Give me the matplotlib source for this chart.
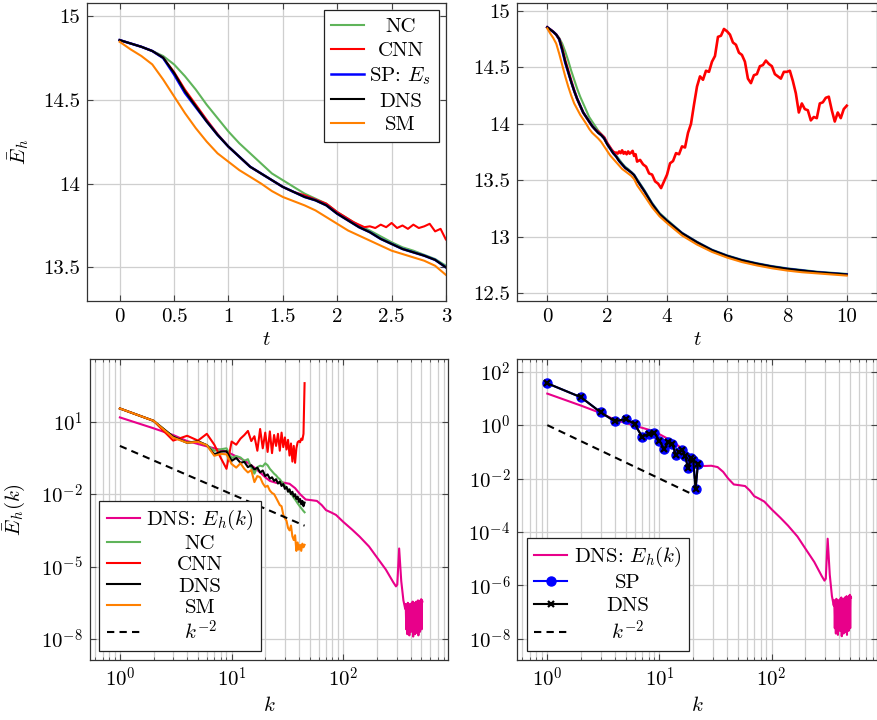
import numpy as np
import matplotlib
matplotlib.use('Agg')
import matplotlib.pyplot as plt
from matplotlib.ticker import FixedLocator, FixedFormatter, LogLocator, NullLocator, NullFormatter

plt.rcParams['font.family'] = 'serif'
plt.rcParams['font.serif'] = ['cmr10']
plt.rcParams['mathtext.fontset'] = 'cm'
plt.rcParams['axes.formatter.use_mathtext'] = True
plt.rcParams['axes.unicode_minus'] = False
FS = 15

# ---------------- time series (top panels) ----------------
t_vals = [0.0, 0.1, 0.2, 0.3, 0.4, 0.5, 0.6, 0.7, 0.8, 0.9, 1.0, 1.1, 1.2, 1.3, 1.4, 1.5,
          1.6, 1.7, 1.8, 1.9, 2.0, 2.1, 2.2, 2.3, 2.4, 2.5, 2.6, 2.7, 2.8, 2.9, 3.0,
          3.25, 3.5, 3.75, 4.0, 4.5, 5.0, 5.5, 6.0, 6.5, 7.0, 7.5, 8.0, 8.5, 9.0, 9.5, 10.0]
E_dns = [14.855, 14.835, 14.815, 14.79, 14.75, 14.66, 14.55, 14.46, 14.37, 14.29, 14.22, 14.16,
         14.10, 14.06, 14.02, 13.98, 13.95, 13.92, 13.90, 13.87, 13.82, 13.78, 13.74, 13.71, 13.67,
         13.64, 13.61, 13.59, 13.57, 13.545, 13.50,
         13.40, 13.29, 13.20, 13.14, 13.03, 12.95, 12.88, 12.83, 12.79, 12.76, 12.735, 12.715,
         12.70, 12.685, 12.675, 12.665]
E_sp = [14.855, 14.835, 14.815, 14.79, 14.748, 14.65, 14.54, 14.455, 14.37, 14.29, 14.22, 14.16,
        14.10, 14.06, 14.02, 13.98, 13.95, 13.92, 13.90, 13.87, 13.82, 13.78, 13.74, 13.71, 13.67,
        13.64, 13.61, 13.59, 13.57, 13.545, 13.50,
        13.40, 13.29, 13.20, 13.14, 13.03, 12.95, 12.88, 12.83, 12.79, 12.76, 12.735, 12.715,
        12.70, 12.685, 12.675, 12.665]
E_nc = [14.855, 14.835, 14.815, 14.79, 14.76, 14.71, 14.64, 14.56, 14.47, 14.39, 14.31, 14.24,
        14.18, 14.12, 14.06, 14.02, 13.98, 13.94, 13.91, 13.88, 13.83, 13.79, 13.75, 13.72, 13.685,
        13.65, 13.62, 13.60, 13.575, 13.55, 13.51,
        13.41, 13.30, 13.21, 13.15, 13.035, 12.955, 12.885, 12.835, 12.795, 12.765, 12.74, 12.72,
        12.705, 12.69, 12.68, 12.67]
E_sm = [14.845, 14.80, 14.76, 14.71, 14.62, 14.52, 14.42, 14.33, 14.25, 14.18, 14.13, 14.08,
        14.04, 14.00, 13.955, 13.92, 13.895, 13.87, 13.84, 13.80, 13.76, 13.72, 13.69, 13.66, 13.63,
        13.60, 13.58, 13.56, 13.54, 13.51, 13.455,
        13.36, 13.26, 13.18, 13.12, 13.01, 12.93, 12.865, 12.815, 12.775, 12.745, 12.72, 12.70,
        12.685, 12.675, 12.665, 12.655]

t_cnn = [0.0, 0.1, 0.2, 0.3, 0.4, 0.5, 0.6, 0.7, 0.8, 0.9, 1.0, 1.1, 1.2, 1.3, 1.4, 1.5, 1.6, 1.7,
         1.8, 1.9,
         2.0, 2.05, 2.1, 2.15, 2.2, 2.25, 2.3, 2.35, 2.4, 2.45, 2.5, 2.55, 2.6, 2.65, 2.7, 2.75,
         2.8, 2.85, 2.9, 2.95, 3.0,
         3.1, 3.2, 3.3, 3.4, 3.5, 3.6, 3.7, 3.8, 3.9, 4.0, 4.1, 4.2, 4.3, 4.4, 4.5, 4.6, 4.7, 4.8,
         4.9, 5.0, 5.1, 5.2, 5.3, 5.4, 5.5, 5.6, 5.7, 5.8, 5.9, 6.0, 6.1, 6.2, 6.3, 6.4, 6.5, 6.6,
         6.7, 6.8, 6.9, 7.0, 7.1, 7.2, 7.3, 7.4, 7.5, 7.6, 7.7, 7.8, 7.9, 8.0, 8.1, 8.2, 8.3, 8.4,
         8.5, 8.6, 8.7, 8.8, 8.9, 9.0, 9.1, 9.2, 9.3, 9.4, 9.5, 9.6, 9.7, 9.8, 9.9, 10.0]
E_cnn = [14.855, 14.835, 14.815, 14.79, 14.75, 14.665, 14.56, 14.47, 14.38, 14.295, 14.22, 14.16,
         14.10, 14.06, 14.02, 13.98, 13.95, 13.93, 13.905, 13.88,
         13.83, 13.81, 13.79, 13.77, 13.755, 13.74, 13.745, 13.735, 13.755, 13.74, 13.765, 13.735,
         13.75, 13.73, 13.755, 13.735, 13.745, 13.76, 13.715, 13.73, 13.665,
         13.68, 13.64, 13.62, 13.56, 13.55, 13.49, 13.47, 13.43, 13.49, 13.55,
         13.65, 13.67, 13.74, 13.73, 13.80, 13.79, 13.92, 14.00, 14.17, 14.33,
         14.42, 14.39, 14.47, 14.46, 14.55, 14.60, 14.77, 14.78, 14.84, 14.82,
         14.79, 14.72, 14.70, 14.63, 14.61, 14.55, 14.40, 14.36, 14.43, 14.44,
         14.51, 14.52, 14.56, 14.53, 14.51, 14.44, 14.42, 14.40, 14.46, 14.46,
         14.47, 14.38, 14.27, 14.10, 14.18, 14.13, 14.12, 14.03, 14.06, 14.05,
         14.18, 14.19, 14.23, 14.24, 14.12, 14.02, 14.10, 14.05, 14.13, 14.16]

# ---------------- spectra (bottom panels) ----------------
k_les = [1, 2, 3, 4, 5, 6, 7, 8, 9, 10, 11, 12, 13, 14, 15, 16, 17, 18, 19, 20, 21, 22, 23,
         24, 25, 26, 27, 28, 29, 30, 31, 32, 33, 34, 35, 36, 37, 38, 39, 40, 41, 42, 43, 44, 45]
log_dns_les = [1.55, 1.04, 0.38, 0.13, 0.19, 0.03, -0.35, -0.24, -0.22, -0.62, -0.5, -0.7, -0.66,
               -0.88, -0.8, -0.98, -0.9, -1.1, -1.02, -1.25, -1.18, -1.36, -1.3, -1.45, -1.38,
               -1.56, -1.48, -1.66, -1.58, -1.78, -1.7, -1.9, -1.8, -2.0, -1.9, -2.1, -2.0, -2.2,
               -2.1, -2.32, -2.2, -2.42, -2.28, -2.5, -2.35]
log_nc = [1.55, 1.04, 0.38, 0.13, 0.19, 0.03, -0.2, -0.14, -0.1, -0.5, -0.42, -0.48, -0.62, -0.55,
          -0.9, -1.15, -0.88, -0.82, -0.85, -0.72, -0.8, -0.95, -1.05, -1.15, -1.22, -1.32, -1.38,
          -1.48, -1.55, -1.65, -1.72, -1.8, -1.9, -1.98, -2.05, -2.15, -2.22, -2.3, -2.38, -2.45,
          -2.52, -2.58, -2.64, -2.7, -2.75]
log_sm = [1.55, 1.04, 0.34, 0.13, 0.17, 0.03, -0.41, -0.33, -0.35, -0.75, -0.9, -0.72, -0.95, -1.1,
          -1.0, -1.5, -1.25, -1.3, -1.55, -1.7, -1.65, -1.85, -1.95, -2.0, -2.15, -2.3, -2.45,
          -2.5, -2.85, -3.0, -3.1, -3.4, -3.5, -3.3, -3.75, -3.9, -3.7, -4.35, -4.0, -4.3, -4.1,
          -4.35, -4.05, -4.2, -4.1]
log_cnn = [1.55, 1.04, 0.22, 0.42, 0.22, 0.5, 0.05, -0.5, -0.95, 0.18, 0.05, 0.3, 0.45, 0.62, 0.2,
           0.4, -0.2, 0.7, -0.1, 0.55, -0.25, 0.6, -0.3, 0.45, 0.0, 0.5, -0.2, 0.55, -0.05, 0.35,
           -0.15, 0.25, -0.4, 0.1, -0.65, 0.0, -0.7, -0.1, 0.15, 0.2, 0.15, 0.3, 0.25, 0.5, 2.6]

k_full = [1, 2, 3, 4, 5, 6, 7, 8, 9, 10, 12, 14, 16, 18, 20, 22, 25, 29, 33, 37, 41, 46, 52, 58,
          64, 70, 78, 86, 100, 120, 140, 170, 200, 240, 280, 296, 304, 316, 330, 345, 358,
          362, 366, 370, 374, 378, 382, 386, 390, 394, 398, 402, 406, 410, 414, 418, 422, 426,
          430, 434, 438, 442, 446, 450, 454, 458, 462, 466, 470, 474, 478, 482, 486, 490, 494,
          498, 502, 506, 510]
log_full = [1.18, 0.73, 0.45, 0.2, 0.08, -0.02, -0.1, -0.17, -0.25, -0.34, -0.52, -0.7, -0.9,
            -1.1, -1.3, -1.45, -1.53, -1.52, -1.57, -1.75, -2.0, -2.22, -2.25, -2.28, -2.45,
            -2.66, -2.76, -2.86, -3.15, -3.47, -3.76, -4.17, -4.62, -5.12, -5.65, -5.82, -5.75,
            -4.25, -5.6, -6.4, -6.75,
            -6.55, -7.6, -6.6, -7.8, -6.5, -7.5, -6.7, -7.85, -6.55, -7.4, -6.6, -7.7, -6.5,
            -7.6, -6.45, -7.9, -6.6, -7.5, -6.5, -7.8, -6.55, -7.45, -6.45, -7.75, -6.5, -7.6,
            -6.4, -7.85, -6.5, -7.55, -6.45, -7.7, -6.4, -7.5, -6.35, -7.6, -6.4, -6.45]

k_sp = [1, 2, 3, 4, 5, 6, 7, 8, 9, 10, 11, 12, 13, 14, 15, 16, 17, 18, 19, 20, 21, 22]
E_sp_k = [36.7, 11.0, 3.0, 1.38, 1.7, 1.1, 0.37, 0.47, 0.52, 0.26, 0.127, 0.23, 0.195, 0.078,
          0.1, 0.12, 0.067, 0.024, 0.059, 0.049, 0.0041, 0.034]
E_dns_k = [36.7, 11.0, 3.0, 1.38, 1.7, 1.1, 0.37, 0.47, 0.52, 0.26, 0.127, 0.23, 0.195, 0.078,
           0.1, 0.12, 0.067, 0.024, 0.059, 0.049, 0.0041, 0.034]

k_ref_left = [1, 45]
E_ref_left = [1.0, 4.94e-4]
k_ref_right = [1, 20]
E_ref_right = [1.0, 2.5e-3]

C_NC = '#5FB45A'
C_CNN = '#FF0000'
C_SP = '#0000FF'
C_DNS = 'black'
C_SM = '#FF8000'
C_PINK = '#E8008A'
GRID = '#cfcfcf'
LW = 1.5

W, H = 878, 720
fig = plt.figure(figsize=(W / 100, H / 100), dpi=100)


def box(l, r, t, b):
    return [l / W, 1 - b / H, (r - l) / W, (b - t) / H]


ax1 = fig.add_axes(box(87, 446, 3, 301))
ax2 = fig.add_axes(box(517.3, 876.7, 3, 301))
ax3 = fig.add_axes(box(90, 448, 359, 660))
ax4 = fig.add_axes(box(517.3, 876.7, 359, 660))


def style(ax):
    ax.tick_params(which='both', direction='in', top=True, right=True, labelsize=FS,
                   color='#444444', pad=5)
    ax.tick_params(which='major', length=4)
    ax.tick_params(which='minor', length=2.5)
    for s in ax.spines.values():
        s.set_color('#333333')
        s.set_linewidth(0.9)
    ax.set_axisbelow(True)


# ---- top panels ----
for ax in (ax1, ax2):
    ax.plot(t_vals, E_nc, color=C_NC, lw=LW, label='NC')
    ax.plot(t_cnn, E_cnn, color=C_CNN, lw=1.9 if ax is ax2 else LW, label='CNN')
    ax.plot(t_vals, E_sp, color=C_SP, lw=LW + 0.3, label='SP: $E_s$')
    ax.plot(t_vals, E_dns, color=C_DNS, lw=LW, label='DNS')
    ax.plot(t_vals, E_sm, color=C_SM, lw=LW, label='SM')
    style(ax)
    ax.grid(True, which='major', color=GRID, lw=0.9)

ax1.set_xlim(-0.3, 3.0)
ax1.set_ylim(13.3, 15.076)
ax1.xaxis.set_major_locator(FixedLocator([0, 0.5, 1, 1.5, 2, 2.5, 3]))
ax1.xaxis.set_major_formatter(FixedFormatter(['0', '0.5', '1', '1.5', '2', '2.5', '3']))
ax1.yaxis.set_major_locator(FixedLocator([13.5, 14, 14.5, 15]))
ax1.yaxis.set_major_formatter(FixedFormatter(['13.5', '14', '14.5', '15']))
ax1.set_xlabel('$t$', fontsize=FS)
ax1.set_ylabel(r'$\bar{E}_h$', fontsize=FS)
ax1.xaxis.set_label_coords(0.5, -0.1)
ax1.yaxis.set_label_coords(-0.155, 0.5)

ax2.set_xlim(-1, 11)
ax2.set_ylim(12.43, 15.07)
ax2.xaxis.set_major_locator(FixedLocator([0, 2, 4, 6, 8, 10]))
ax2.xaxis.set_major_formatter(FixedFormatter(['0', '2', '4', '6', '8', '10']))
ax2.yaxis.set_major_locator(FixedLocator([12.5, 13, 13.5, 14, 14.5, 15]))
ax2.yaxis.set_major_formatter(FixedFormatter(['12.5', '13', '13.5', '14', '14.5', '15']))
ax2.set_xlabel('$t$', fontsize=FS)
ax2.xaxis.set_label_coords(0.5, -0.1)

leg1 = ax1.legend(loc='upper right', fontsize=FS, frameon=True, fancybox=False,
                  edgecolor='#222222', framealpha=1, handlelength=1.6, handletextpad=0.25,
                  borderpad=0.35, labelspacing=0.25, borderaxespad=0.35)
leg1.get_frame().set_linewidth(0.9)

# ---- bottom panels ----
ax3.plot(k_full, np.power(10.0, log_full), color=C_PINK, lw=LW, label='DNS: $E_h(k)$')
ax3.plot(k_les, np.power(10.0, log_nc), color=C_NC, lw=LW, label='NC')
ax3.plot(k_les, np.power(10.0, log_cnn), color=C_CNN, lw=LW, label='CNN')
ax3.plot(k_les, np.power(10.0, log_dns_les), color=C_DNS, lw=LW, label='DNS')
ax3.plot(k_les, np.power(10.0, log_sm), color=C_SM, lw=LW, label='SM')
ax3.plot(k_ref_left, E_ref_left, color='black', lw=LW, ls=(0, (3.5, 2.5)), label='$k^{-2}$')

ax4.plot(k_full, np.power(10.0, log_full), color=C_PINK, lw=LW, label='DNS: $E_h(k)$')
ax4.plot(k_sp, E_sp_k, color=C_SP, lw=LW, marker='o', ms=6.5, mfc=C_SP, mec=C_SP, label='SP')
ax4.plot(k_sp, E_dns_k, color=C_DNS, lw=LW, marker='x', ms=4, mew=1.6, label='DNS')
ax4.plot(k_ref_right, E_ref_right, color='black', lw=LW, ls=(0, (3.5, 2.5)), label='$k^{-2}$')

for ax in (ax3, ax4):
    ax.set_xscale('log')
    ax.set_yscale('log')
    style(ax)
    ax.set_xlim(0.54, 865)
    ax.xaxis.set_major_locator(FixedLocator([1, 10, 100]))
    ax.xaxis.set_major_formatter(FixedFormatter(['$10^{0}$', '$10^{1}$', '$10^{2}$']))
    ax.xaxis.set_minor_locator(LogLocator(base=10, subs=(2, 3, 4, 5, 6, 7, 8, 9), numticks=20))
    ax.xaxis.set_minor_formatter(NullFormatter())
    ax.yaxis.set_minor_locator(NullLocator())
    ax.grid(True, which='major', color=GRID, lw=0.9)
    ax.grid(True, which='minor', axis='x', color=GRID, lw=0.9)
    ax.set_xlabel('$k$', fontsize=FS)
    ax.xaxis.set_label_coords(0.5, -0.12)

ax3.set_ylim(10 ** -8.87, 10 ** 3.6)
ax3.yaxis.set_major_locator(FixedLocator([1e1, 1e-2, 1e-5, 1e-8]))
ax3.yaxis.set_major_formatter(FixedFormatter(['$10^{1}$', '$10^{-2}$', '$10^{-5}$', '$10^{-8}$']))
ax3.set_ylabel(r'$\bar{E}_h(k)$', fontsize=FS)
ax3.yaxis.set_label_coords(-0.175, 0.5)

ax4.set_ylim(10 ** -8.79, 10 ** 2.475)
ax4.yaxis.set_major_locator(FixedLocator([1e2, 1e0, 1e-2, 1e-4, 1e-6, 1e-8]))
ax4.yaxis.set_major_formatter(FixedFormatter(['$10^{2}$', '$10^{0}$', '$10^{-2}$', '$10^{-4}$',
                                              '$10^{-6}$', '$10^{-8}$']))

leg3 = ax3.legend(loc='lower left', fontsize=FS, frameon=True, fancybox=False,
                  edgecolor='#222222', framealpha=1, handlelength=1.6, handletextpad=0.3,
                  borderpad=0.35, labelspacing=0.12, borderaxespad=0.45)
leg3.get_frame().set_linewidth(0.9)
leg4 = ax4.legend(loc='lower left', fontsize=FS, frameon=True, fancybox=False,
                  edgecolor='#222222', framealpha=1, handlelength=1.6, handletextpad=0.3,
                  borderpad=0.35, labelspacing=0.2, borderaxespad=0.45, numpoints=1)
leg4.get_frame().set_linewidth(0.9)

# center legend labels (as in the reference)
fig.canvas.draw()
renderer = fig.canvas.get_renderer()
for leg in (leg1, leg3, leg4):
    texts = leg.get_texts()
    widths = [tx.get_window_extent(renderer).width for tx in texts]
    wmax = max(widths)
    for tx, w in zip(texts, widths):
        tx.set_position(((wmax - w) / 2.0, 0))

fig.savefig('out.png', dpi=100)
